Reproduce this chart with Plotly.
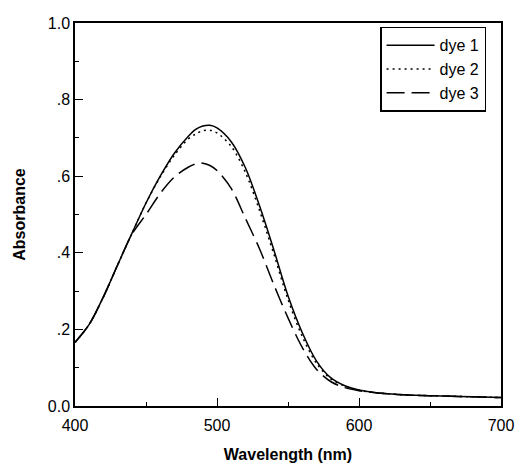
import plotly.graph_objects as go

# Absorption spectra of three dyes
wavelength_nm = [400, 410, 420, 430, 440, 450, 460, 470, 480, 485, 490, 495, 500,
                 510, 520, 530, 540, 550, 560, 570, 580, 590, 600, 620, 640, 660, 680, 700]

dye1 = [0.166, 0.213, 0.285, 0.368, 0.450, 0.530, 0.600, 0.660, 0.705, 0.722, 0.731, 0.733, 0.726,
        0.690, 0.622, 0.522, 0.408, 0.288, 0.192, 0.118, 0.074, 0.053, 0.042, 0.032, 0.028, 0.026, 0.024, 0.022]

dye2 = [0.166, 0.213, 0.285, 0.368, 0.450, 0.530, 0.598, 0.655, 0.698, 0.710, 0.719, 0.720, 0.713,
        0.678, 0.610, 0.510, 0.397, 0.278, 0.182, 0.112, 0.071, 0.052, 0.041, 0.032, 0.028, 0.026, 0.024, 0.022]

dye3 = [0.166, 0.213, 0.285, 0.368, 0.448, 0.500, 0.555, 0.598, 0.624, 0.632, 0.634, 0.628, 0.615,
        0.568, 0.490, 0.410, 0.317, 0.230, 0.153, 0.096, 0.064, 0.048, 0.040, 0.032, 0.028, 0.026, 0.024, 0.022]

y_tickvals = [0.0, 0.2, 0.4, 0.6, 0.8, 1.0]
y_ticktext = ["0.0", ".2", ".4", ".6", ".8", "1.0"]
x_tickvals = [400, 500, 600, 700]

font_family = "Liberation Sans, Arial, sans-serif"

fig = go.Figure()
series = [
    ("dye 1", dye1, "solid"),
    ("dye 2", dye2, "2px,4px"),
    ("dye 3", dye3, "18px,7px"),
]
for name, values, dash in series:
    fig.add_trace(go.Scatter(
        x=wavelength_nm, y=values, name=name, mode="lines",
        line=dict(color="black", width=1.5, dash=dash, shape="spline", smoothing=0.9),
    ))

axis_common = dict(
    showgrid=False, zeroline=False, showline=True, linecolor="black", linewidth=1.5,
    mirror=True, ticks="inside", ticklen=8, tickwidth=1, tickcolor="black",
    tickfont=dict(family=font_family, size=16, color="black"),
    automargin=False,
)

fig.update_xaxes(
    range=[400, 700], tickvals=x_tickvals, ticklabelstandoff=4,
    minor=dict(ticks="inside", ticklen=4, dtick=50, tick0=400, tickcolor="black"),
    title=dict(text="<b>Wavelength (nm)</b>", font=dict(family=font_family, size=16, color="black"),
               standoff=16),
    **axis_common,
)
fig.update_yaxes(
    range=[0, 1], tickvals=y_tickvals, ticktext=y_ticktext,
    minor=dict(ticks="inside", ticklen=4, dtick=0.1, tick0=0, tickcolor="black"),
    title=dict(text="<b>Absorbance</b>", font=dict(family=font_family, size=16, color="black"),
               standoff=18),
    **axis_common,
)

fig.update_layout(
    width=519, height=470,
    margin=dict(l=75, r=18, t=23, b=64),
    paper_bgcolor="white", plot_bgcolor="white",
    font=dict(family=font_family, size=16, color="black"),
    showlegend=True,
    legend=dict(
        x=0.965, y=0.99, xanchor="right", yanchor="top",
        bgcolor="white", bordercolor="black", borderwidth=1.5,
        font=dict(family=font_family, size=16, color="black"),
        tracegroupgap=0, itemwidth=48,
    ),
)

fig.write_html("out.html")
